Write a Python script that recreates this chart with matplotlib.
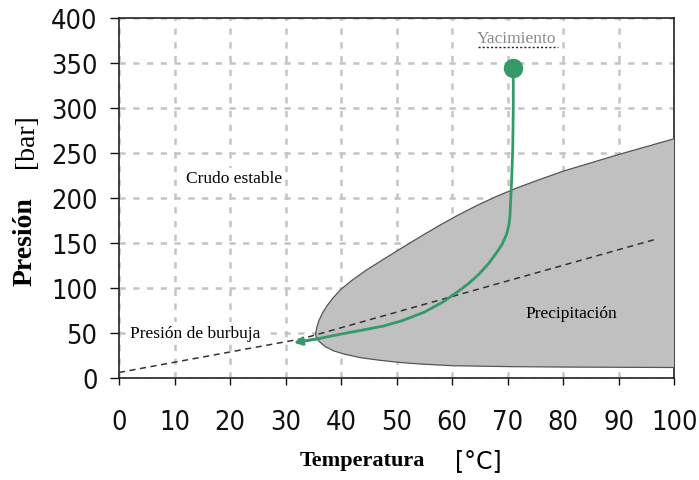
import numpy as np
import matplotlib
matplotlib.use("Agg")
import matplotlib.pyplot as plt

# envelope of asphaltene precipitation (T in C, P in bar)
env_upper_t = [35.4, 35.6, 36, 36.6, 37.4, 38.5, 40, 42, 44.5, 47.6, 51, 54.2,
               57.5, 61, 64.5, 68, 71.5, 75, 80, 90, 100]
env_upper_p = [49, 56, 64, 72, 80, 89, 99, 109, 120, 132, 145, 157,
               169, 181, 192, 202, 211, 219, 230, 248.5, 266]
env_lower_t = [35.4, 35.6, 36.2, 37.2, 38.6, 40.5, 43.4, 47, 50.6, 54.2, 60, 70, 80, 100]
env_lower_p = [49, 44, 40, 35, 30.6, 27, 23, 20, 17.6, 15.9, 14, 13, 12.5, 12]

# bubble pressure line
bub_t = [0, 33, 97]
bub_p = [6.5, 44, 155]

# depletion path from reservoir conditions
path_t = [71, 71, 70.9, 70.7, 70.4, 70.2, 69.8, 69, 68, 66.5, 64.8, 63, 61.2, 58.4, 55,
          51, 47.6, 44.5, 41.6, 38.8, 36.2, 33.5, 31.5]
path_p = [345, 300, 254, 220, 180, 170, 160, 149, 139.5, 127, 115.5, 105.5, 97, 85, 73.5,
          64, 58, 54.3, 51, 47.7, 44.4, 41.5, 39.5]

xticks = list(range(0, 101, 10))
yticks = list(range(0, 401, 50))

green = "#35996a"

fig = plt.figure(figsize=(6.99, 4.81), dpi=100)
ax = fig.add_axes([0.1702, 0.2114, 0.7945, 0.7491])

ax.set_xlim(0, 100)
ax.set_ylim(0, 400)
ax.set_xticks(xticks)
ax.set_yticks(yticks)

ax.grid(True, color="#c4c4c4", linestyle=(0, (2.5, 3)), linewidth=1.8, zorder=0)

# gray region
poly_t = env_upper_t + [100] + env_lower_t[::-1]
poly_p = env_upper_p + [12] + env_lower_p[::-1]
ax.fill(poly_t, poly_p, color="#c0c0c0", zorder=2.6, lw=0)
ax.plot(env_upper_t, env_upper_p, color="#555555", lw=0.9, zorder=2.7)
ax.plot(env_lower_t, env_lower_p, color="#555555", lw=0.9, zorder=2.7)

ax.plot(bub_t, bub_p, color="#333333", lw=1.1, linestyle=(0, (4, 3)), zorder=3)

ax.plot(path_t[:-1], path_p[:-1], color=green, lw=2.0, zorder=4,
        solid_joinstyle="round", solid_capstyle="butt")
ax.annotate("", xy=(path_t[-1], path_p[-1]), xytext=(path_t[-3], path_p[-3]),
            arrowprops=dict(arrowstyle="-|>", color=green, lw=2.0,
                            mutation_scale=12, shrinkA=0, shrinkB=0),
            zorder=4)
ax.plot([path_t[0]], [path_p[0]], "o", color=green, markersize=13, zorder=5)

serif = "Liberation Serif"
box = dict(facecolor="white", edgecolor="none", pad=2)
ax.text(20.8, 222, "Crudo estable", family=serif, fontsize=12.5, ha="center", va="center",
        bbox=box, zorder=3.5)
ax.text(13.7, 50, "Presión de burbuja", family=serif, fontsize=12.5, ha="center", va="center",
        bbox=box, zorder=3.5)
ax.text(81.4, 73, "Precipitación", family=serif, fontsize=12.5, ha="center", va="center",
        zorder=3.5)
ax.text(71.6, 378, "Yacimiento", family=serif, fontsize=12.5, ha="center", va="center",
        color="#8a8a8a", bbox=box, zorder=3.5)
ax.plot([64.7, 79.0], [368, 368], color="#222222", lw=1.0, linestyle=(0, (1.5, 1.5)), zorder=3.6)

for s in ax.spines.values():
    s.set_color("#222222")
    s.set_linewidth(1.2)
    s.set_zorder(2.5)

ax.tick_params(axis="y", direction="out", length=6.5, width=1.0, pad=9, colors="#111111")
ax.tick_params(axis="x", direction="out", length=5, width=1.0, pad=17, colors="#111111")
for lab in ax.get_xticklabels() + ax.get_yticklabels():
    lab.set_fontsize(19.5)
    lab.set_fontstretch("condensed")
    lab.set_color("#111111")

fig.text(0.036, 0.497, "Presión", family=serif, fontweight="bold", fontsize=20,
         rotation=90, ha="center", va="center")
fig.text(0.038, 0.707, "[bar]", family=serif, fontsize=20,
         rotation=90, ha="center", va="center")
fig.text(0.519, 0.041, "Temperatura", family=serif, fontweight="bold", fontsize=16,
         ha="center", va="center")
fig.text(0.684, 0.041, "[°C]", fontsize=17, ha="center", va="center")

fig.savefig("out.png", dpi=100)
